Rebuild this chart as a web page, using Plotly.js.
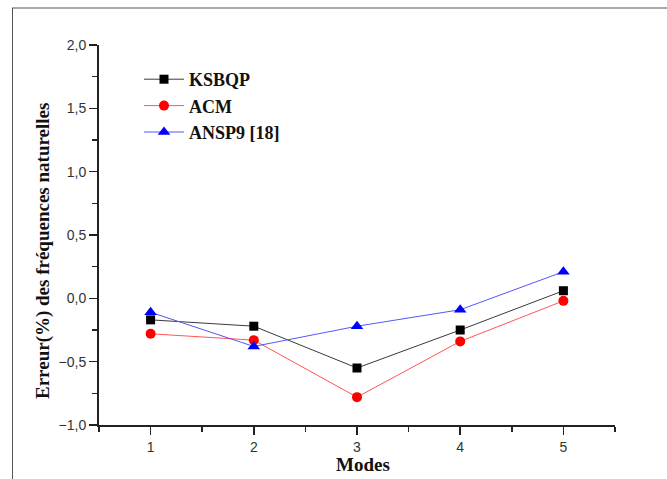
<!DOCTYPE html>
<html>
<head>
<meta charset="utf-8">
<script src="https://cdn.plot.ly/plotly-3.0.1.min.js"></script>
<style>html,body{margin:0;padding:0;background:#fff;}#chart{width:667px;height:479px;}</style>
</head>
<body>
<div id="chart"></div>
<script>
const modes = [1, 2, 3, 4, 5];
const ksbqp = [-0.17, -0.22, -0.55, -0.25, 0.06];
const acm = [-0.28, -0.33, -0.78, -0.34, -0.02];
const ansp9 = [-0.11, -0.38, -0.22, -0.09, 0.21];
const names = ['KSBQP', 'ACM', 'ANSP9 [18]'];
const yTitle = 'Erreur(%) des fréquences naturelles';
const xTitle = 'Modes';

const traces = [
  {x: modes, y: ksbqp, name: names[0], mode: 'lines+markers', type: 'scatter',
   line: {color: '#3a3a3a', width: 1}, marker: {symbol: 'square', size: 9, color: '#000'}},
  {x: modes, y: acm, name: names[1], mode: 'lines+markers', type: 'scatter',
   line: {color: '#ff5555', width: 1}, marker: {symbol: 'circle', size: 10, color: '#ff0000'}},
  {x: modes, y: ansp9, name: names[2], mode: 'lines+markers', type: 'scatter',
   line: {color: '#5555ff', width: 1}, marker: {symbol: 'triangle-up', size: 11, color: '#0000ff'}}
];

const L = 99, R = 52, T = 45, B = 54;
const pw = 667 - L - R, ph = 479 - T - B;
const px = v => (v - L) / pw;
const py = v => (479 - B - v) / ph;

const layout = {
  width: 667, height: 479,
  margin: {l: L, r: R, t: T, b: B},
  paper_bgcolor: '#fff', plot_bgcolor: '#fff',
  separators: ',.',
  showlegend: true,
  legend: {x: px(139), y: py(61), xanchor: 'left', yanchor: 'top',
           bgcolor: 'rgba(0,0,0,0)',
           font: {family: 'Liberation Serif', size: 18, color: '#111', weight: 'bold'},
           itemwidth: 40},
  xaxis: {
    range: [0.5, 5.5], tickvals: modes, ticktext: modes.map(String),
    showgrid: false, zeroline: false, showline: true, linecolor: '#222', linewidth: 2,
    ticks: 'outside', ticklen: 8, tickwidth: 1.5, tickcolor: '#222',
    minor: {tickvals: [0.5, 1.5, 2.5, 3.5, 4.5, 5.5], ticks: 'outside', ticklen: 5, tickwidth: 1.5, tickcolor: '#222', showgrid: false},
    tickfont: {family: 'Liberation Sans', size: 14, color: '#333'},
    fixedrange: true
  },
  yaxis: {
    range: [-1, 2], dtick: 0.5, tick0: 0, tickformat: '.1f',
    showgrid: false, zeroline: false, showline: true, linecolor: '#222', linewidth: 2,
    ticks: 'outside', ticklen: 8, tickwidth: 1.5, tickcolor: '#222',
    minor: {dtick: 0.25, ticks: 'outside', ticklen: 5, tickwidth: 1.5, tickcolor: '#222', showgrid: false},
    tickfont: {family: 'Liberation Sans', size: 14, color: '#333'},
    fixedrange: true
  },
  annotations: [
    {text: yTitle, xref: 'paper', yref: 'paper', x: px(43), y: py(251), xanchor: 'center', yanchor: 'middle',
     textangle: -90, showarrow: false, font: {family: 'Liberation Serif', size: 19, color: '#111', weight: 'bold'}},
    {text: xTitle, xref: 'paper', yref: 'paper', x: px(363), y: py(464), xanchor: 'center', yanchor: 'middle',
     showarrow: false, font: {family: 'Liberation Serif', size: 19, color: '#111', weight: 'bold'}}
  ],
  shapes: [
    {type: 'line', xref: 'paper', yref: 'paper', x0: px(12), x1: px(667), y0: py(8), y1: py(8),
     line: {color: '#aaaaaa', width: 2}},
    {type: 'line', xref: 'paper', yref: 'paper', x0: px(12.5), x1: px(12.5), y0: py(8), y1: py(479),
     line: {color: '#555555', width: 1}}
  ]
};

Plotly.newPlot('chart', traces, layout, {displayModeBar: false, staticPlot: true});
</script>
</body>
</html>
